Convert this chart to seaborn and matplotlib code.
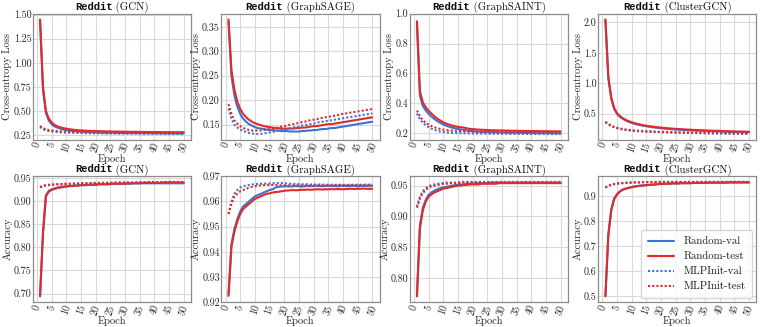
import numpy as np
import pandas as pd
import matplotlib
matplotlib.use("Agg")
import matplotlib.pyplot as plt
import seaborn as sns
from matplotlib.offsetbox import TextArea, HPacker, AnchoredOffsetbox

epochs = list(range(1, 51))
models = ["GCN", "GraphSAGE", "GraphSAINT", "ClusterGCN"]
series_names = ["Random-val", "Random-test", "MLPInit-val", "MLPInit-test"]

# ---------------- Loss ----------------
gcn_loss_rv = [1.44, 0.72, 0.48, 0.40, 0.36, 0.340, 0.326, 0.316, 0.308, 0.302, 0.297, 0.293, 0.290, 0.287, 0.285, 0.283, 0.281, 0.280, 0.279, 0.278, 0.277, 0.276, 0.275, 0.275, 0.274, 0.274, 0.273, 0.273, 0.272, 0.272, 0.272, 0.271, 0.271, 0.271, 0.270, 0.270, 0.270, 0.270, 0.269, 0.269, 0.269, 0.269, 0.268, 0.268, 0.268, 0.268, 0.268, 0.267, 0.267, 0.267]
gcn_loss_rt = [1.45, 0.75, 0.50, 0.42, 0.38, 0.355, 0.340, 0.330, 0.322, 0.316, 0.311, 0.307, 0.304, 0.301, 0.299, 0.297, 0.295, 0.294, 0.293, 0.292, 0.291, 0.290, 0.289, 0.288, 0.288, 0.287, 0.287, 0.286, 0.286, 0.285, 0.285, 0.284, 0.284, 0.284, 0.283, 0.283, 0.283, 0.282, 0.282, 0.282, 0.282, 0.281, 0.281, 0.281, 0.281, 0.280, 0.280, 0.280, 0.280, 0.280]
gcn_loss_mv = [0.335, 0.310, 0.300, 0.293, 0.288, 0.284, 0.281, 0.279, 0.277, 0.276, 0.275, 0.274, 0.273, 0.272, 0.271, 0.271, 0.270, 0.270, 0.269, 0.269, 0.268, 0.268, 0.268, 0.267, 0.267, 0.267, 0.266, 0.266, 0.266, 0.266, 0.265, 0.265, 0.265, 0.265, 0.265, 0.264, 0.264, 0.264, 0.264, 0.264, 0.263, 0.263, 0.263, 0.263, 0.263, 0.263, 0.262, 0.262, 0.262, 0.262]
gcn_loss_mt = [0.345, 0.322, 0.310, 0.303, 0.298, 0.294, 0.291, 0.289, 0.287, 0.286, 0.285, 0.284, 0.283, 0.282, 0.281, 0.281, 0.280, 0.280, 0.279, 0.279, 0.278, 0.278, 0.278, 0.277, 0.277, 0.277, 0.276, 0.276, 0.276, 0.276, 0.275, 0.275, 0.275, 0.275, 0.275, 0.274, 0.274, 0.274, 0.274, 0.274, 0.273, 0.273, 0.273, 0.273, 0.273, 0.273, 0.272, 0.272, 0.272, 0.272]

sage_loss_rv = [0.360, 0.250, 0.210, 0.187, 0.172, 0.162, 0.156, 0.151, 0.148, 0.145, 0.143, 0.142, 0.141, 0.140, 0.139, 0.139, 0.138, 0.138, 0.137, 0.137, 0.137, 0.136, 0.136, 0.136, 0.136, 0.137, 0.137, 0.138, 0.138, 0.139, 0.139, 0.140, 0.141, 0.141, 0.142, 0.143, 0.143, 0.144, 0.145, 0.146, 0.147, 0.148, 0.149, 0.150, 0.151, 0.152, 0.153, 0.154, 0.155, 0.156]
sage_loss_rt = [0.365, 0.262, 0.222, 0.197, 0.182, 0.172, 0.165, 0.160, 0.156, 0.153, 0.151, 0.149, 0.147, 0.146, 0.145, 0.144, 0.143, 0.143, 0.142, 0.142, 0.142, 0.142, 0.142, 0.143, 0.143, 0.144, 0.144, 0.145, 0.146, 0.147, 0.147, 0.148, 0.149, 0.150, 0.151, 0.151, 0.152, 0.153, 0.154, 0.155, 0.156, 0.157, 0.158, 0.159, 0.160, 0.161, 0.162, 0.163, 0.164, 0.165]
sage_loss_mv = [0.183, 0.162, 0.150, 0.144, 0.140, 0.137, 0.135, 0.133, 0.132, 0.131, 0.131, 0.131, 0.132, 0.133, 0.134, 0.135, 0.136, 0.138, 0.139, 0.140, 0.141, 0.143, 0.144, 0.145, 0.146, 0.148, 0.149, 0.150, 0.151, 0.152, 0.154, 0.155, 0.156, 0.157, 0.158, 0.159, 0.160, 0.161, 0.162, 0.163, 0.164, 0.165, 0.166, 0.167, 0.168, 0.169, 0.170, 0.171, 0.172, 0.173]
sage_loss_mt = [0.192, 0.172, 0.159, 0.152, 0.147, 0.143, 0.141, 0.139, 0.138, 0.138, 0.138, 0.138, 0.139, 0.140, 0.141, 0.142, 0.143, 0.144, 0.146, 0.147, 0.148, 0.150, 0.151, 0.152, 0.154, 0.155, 0.156, 0.158, 0.159, 0.160, 0.161, 0.163, 0.164, 0.165, 0.166, 0.167, 0.168, 0.169, 0.171, 0.172, 0.173, 0.174, 0.175, 0.176, 0.177, 0.178, 0.179, 0.180, 0.181, 0.182]

saint_loss_rv = [0.930, 0.450, 0.380, 0.350, 0.327, 0.308, 0.292, 0.278, 0.266, 0.256, 0.248, 0.241, 0.235, 0.230, 0.226, 0.223, 0.221, 0.216, 0.213, 0.211, 0.209, 0.208, 0.207, 0.206, 0.205, 0.204, 0.204, 0.203, 0.203, 0.202, 0.202, 0.201, 0.201, 0.201, 0.200, 0.200, 0.200, 0.199, 0.199, 0.199, 0.199, 0.198, 0.198, 0.198, 0.198, 0.198, 0.197, 0.197, 0.197, 0.197]
saint_loss_rt = [0.950, 0.480, 0.405, 0.372, 0.348, 0.328, 0.310, 0.295, 0.282, 0.271, 0.262, 0.255, 0.249, 0.244, 0.240, 0.238, 0.236, 0.230, 0.227, 0.225, 0.223, 0.222, 0.221, 0.220, 0.219, 0.218, 0.217, 0.217, 0.216, 0.216, 0.215, 0.215, 0.214, 0.214, 0.214, 0.213, 0.213, 0.213, 0.212, 0.212, 0.212, 0.212, 0.211, 0.211, 0.211, 0.211, 0.210, 0.210, 0.210, 0.210]
saint_loss_mv = [0.330, 0.292, 0.267, 0.251, 0.238, 0.228, 0.220, 0.214, 0.209, 0.206, 0.204, 0.202, 0.200, 0.199, 0.198, 0.198, 0.197, 0.197, 0.196, 0.196, 0.196, 0.195, 0.195, 0.195, 0.195, 0.194, 0.194, 0.194, 0.194, 0.194, 0.194, 0.193, 0.193, 0.193, 0.193, 0.193, 0.193, 0.193, 0.193, 0.192, 0.192, 0.192, 0.192, 0.192, 0.192, 0.192, 0.192, 0.192, 0.192, 0.192]
saint_loss_mt = [0.350, 0.312, 0.285, 0.268, 0.255, 0.245, 0.237, 0.231, 0.226, 0.222, 0.219, 0.217, 0.215, 0.214, 0.213, 0.212, 0.211, 0.210, 0.210, 0.209, 0.209, 0.208, 0.208, 0.208, 0.207, 0.207, 0.207, 0.206, 0.206, 0.206, 0.206, 0.205, 0.205, 0.205, 0.205, 0.205, 0.204, 0.204, 0.204, 0.204, 0.204, 0.204, 0.203, 0.203, 0.203, 0.203, 0.203, 0.203, 0.203, 0.203]

cgcn_loss_rv = [2.04, 1.08, 0.74, 0.575, 0.49, 0.445, 0.410, 0.383, 0.362, 0.345, 0.330, 0.318, 0.307, 0.297, 0.289, 0.281, 0.274, 0.268, 0.262, 0.257, 0.252, 0.248, 0.244, 0.240, 0.237, 0.234, 0.231, 0.228, 0.225, 0.223, 0.220, 0.218, 0.216, 0.214, 0.212, 0.210, 0.208, 0.206, 0.205, 0.203, 0.201, 0.200, 0.198, 0.197, 0.196, 0.194, 0.193, 0.192, 0.191, 0.190]
cgcn_loss_rt = [2.05, 1.10, 0.76, 0.59, 0.50, 0.455, 0.420, 0.393, 0.372, 0.355, 0.340, 0.328, 0.317, 0.307, 0.298, 0.291, 0.284, 0.278, 0.272, 0.267, 0.262, 0.258, 0.254, 0.250, 0.247, 0.244, 0.241, 0.238, 0.235, 0.233, 0.230, 0.228, 0.226, 0.224, 0.222, 0.220, 0.218, 0.216, 0.215, 0.213, 0.211, 0.210, 0.208, 0.207, 0.206, 0.204, 0.203, 0.202, 0.201, 0.200]
cgcn_loss_mv = [0.355, 0.321, 0.292, 0.272, 0.257, 0.245, 0.236, 0.228, 0.222, 0.217, 0.213, 0.209, 0.206, 0.203, 0.200, 0.198, 0.196, 0.194, 0.192, 0.190, 0.189, 0.187, 0.186, 0.185, 0.183, 0.182, 0.181, 0.180, 0.179, 0.178, 0.177, 0.176, 0.175, 0.174, 0.173, 0.172, 0.172, 0.171, 0.170, 0.169, 0.169, 0.168, 0.167, 0.167, 0.166, 0.165, 0.165, 0.164, 0.164, 0.163]
cgcn_loss_mt = [0.365, 0.330, 0.300, 0.280, 0.265, 0.253, 0.244, 0.236, 0.230, 0.225, 0.221, 0.217, 0.214, 0.211, 0.208, 0.206, 0.204, 0.202, 0.200, 0.198, 0.197, 0.195, 0.194, 0.193, 0.191, 0.190, 0.189, 0.188, 0.187, 0.186, 0.185, 0.184, 0.183, 0.182, 0.181, 0.180, 0.180, 0.179, 0.178, 0.177, 0.177, 0.176, 0.175, 0.175, 0.174, 0.173, 0.173, 0.172, 0.172, 0.171]

# ---------------- Accuracy ----------------
gcn_acc_rv = [0.694, 0.832, 0.912, 0.922, 0.925, 0.927, 0.929, 0.930, 0.931, 0.932, 0.932, 0.933, 0.933, 0.934, 0.934, 0.934, 0.935, 0.935, 0.935, 0.935, 0.936, 0.936, 0.936, 0.936, 0.936, 0.937, 0.937, 0.937, 0.937, 0.937, 0.937, 0.937, 0.938, 0.938, 0.938, 0.938, 0.938, 0.938, 0.938, 0.938, 0.938, 0.938, 0.938, 0.938, 0.938, 0.938, 0.938, 0.938, 0.938, 0.938]
gcn_acc_rt = [0.695, 0.830, 0.910, 0.920, 0.924, 0.926, 0.928, 0.929, 0.930, 0.931, 0.932, 0.932, 0.933, 0.933, 0.934, 0.934, 0.934, 0.935, 0.935, 0.935, 0.936, 0.936, 0.936, 0.936, 0.937, 0.937, 0.937, 0.937, 0.937, 0.938, 0.938, 0.938, 0.938, 0.938, 0.938, 0.939, 0.939, 0.939, 0.939, 0.939, 0.939, 0.939, 0.940, 0.940, 0.940, 0.940, 0.940, 0.940, 0.940, 0.940]
gcn_acc_mv = [0.929, 0.932, 0.933, 0.934, 0.935, 0.935, 0.936, 0.936, 0.936, 0.937, 0.937, 0.937, 0.937, 0.937, 0.938, 0.938, 0.938, 0.938, 0.938, 0.938, 0.938, 0.939, 0.939, 0.939, 0.939, 0.939, 0.939, 0.939, 0.939, 0.939, 0.939, 0.939, 0.939, 0.940, 0.940, 0.940, 0.940, 0.940, 0.940, 0.940, 0.940, 0.940, 0.940, 0.940, 0.940, 0.940, 0.940, 0.940, 0.940, 0.940]
gcn_acc_mt = [0.930, 0.933, 0.934, 0.935, 0.935, 0.936, 0.936, 0.936, 0.937, 0.937, 0.937, 0.937, 0.938, 0.938, 0.938, 0.938, 0.938, 0.938, 0.939, 0.939, 0.939, 0.939, 0.939, 0.939, 0.939, 0.939, 0.940, 0.940, 0.940, 0.940, 0.940, 0.940, 0.940, 0.940, 0.940, 0.940, 0.940, 0.941, 0.941, 0.941, 0.941, 0.941, 0.941, 0.941, 0.941, 0.941, 0.941, 0.941, 0.941, 0.941]

sage_acc_rv = [0.9230, 0.9430, 0.9490, 0.9530, 0.9560, 0.9580, 0.9590, 0.9600, 0.9610, 0.9620, 0.9625, 0.9630, 0.9635, 0.9640, 0.9645, 0.9648, 0.9655, 0.9658, 0.9659, 0.9660, 0.9660, 0.9659, 0.9660, 0.9661, 0.9660, 0.9659, 0.9660, 0.9661, 0.9660, 0.9661, 0.9662, 0.9661, 0.9660, 0.9661, 0.9662, 0.9661, 0.9661, 0.9660, 0.9661, 0.9662, 0.9661, 0.9661, 0.9662, 0.9661, 0.9660, 0.9661, 0.9662, 0.9661, 0.9662, 0.9662]
sage_acc_rt = [0.9225, 0.9420, 0.9480, 0.9520, 0.9550, 0.9570, 0.9580, 0.9590, 0.9600, 0.9610, 0.9615, 0.9620, 0.9625, 0.9630, 0.9632, 0.9635, 0.9637, 0.9638, 0.9640, 0.9642, 0.9643, 0.9644, 0.9645, 0.9644, 0.9645, 0.9646, 0.9646, 0.9647, 0.9646, 0.9647, 0.9648, 0.9648, 0.9647, 0.9648, 0.9648, 0.9649, 0.9648, 0.9649, 0.9649, 0.9648, 0.9649, 0.9650, 0.9650, 0.9649, 0.9650, 0.9650, 0.9651, 0.9650, 0.9650, 0.9650]
sage_acc_mv = [0.9550, 0.9600, 0.9630, 0.9645, 0.9655, 0.9660, 0.9663, 0.9665, 0.9667, 0.9668, 0.9669, 0.9670, 0.9670, 0.9671, 0.9671, 0.9672, 0.9672, 0.9673, 0.9673, 0.9672, 0.9671, 0.9670, 0.9670, 0.9669, 0.9669, 0.9668, 0.9668, 0.9668, 0.9667, 0.9667, 0.9667, 0.9667, 0.9667, 0.9666, 0.9666, 0.9666, 0.9666, 0.9666, 0.9666, 0.9666, 0.9666, 0.9666, 0.9666, 0.9666, 0.9666, 0.9666, 0.9667, 0.9667, 0.9667, 0.9667]
sage_acc_mt = [0.9550, 0.9590, 0.9620, 0.9630, 0.9640, 0.9645, 0.9650, 0.9655, 0.9658, 0.9660, 0.9662, 0.9663, 0.9664, 0.9664, 0.9665, 0.9665, 0.9665, 0.9665, 0.9664, 0.9664, 0.9663, 0.9663, 0.9663, 0.9663, 0.9663, 0.9663, 0.9663, 0.9663, 0.9663, 0.9663, 0.9663, 0.9663, 0.9663, 0.9663, 0.9663, 0.9663, 0.9664, 0.9664, 0.9664, 0.9664, 0.9664, 0.9664, 0.9664, 0.9664, 0.9664, 0.9664, 0.9664, 0.9664, 0.9664, 0.9664]

saint_acc_rv = [0.772, 0.885, 0.914, 0.927, 0.935, 0.939, 0.942, 0.944, 0.946, 0.947, 0.948, 0.949, 0.950, 0.951, 0.951, 0.952, 0.952, 0.953, 0.953, 0.953, 0.954, 0.954, 0.954, 0.954, 0.954, 0.955, 0.955, 0.955, 0.955, 0.955, 0.955, 0.955, 0.955, 0.955, 0.955, 0.955, 0.955, 0.955, 0.955, 0.955, 0.955, 0.955, 0.955, 0.955, 0.955, 0.955, 0.955, 0.955, 0.955, 0.955]
saint_acc_rt = [0.770, 0.880, 0.910, 0.924, 0.932, 0.936, 0.939, 0.941, 0.943, 0.945, 0.946, 0.947, 0.948, 0.949, 0.950, 0.950, 0.951, 0.951, 0.952, 0.952, 0.952, 0.952, 0.953, 0.953, 0.953, 0.953, 0.953, 0.953, 0.954, 0.954, 0.954, 0.954, 0.954, 0.954, 0.954, 0.954, 0.954, 0.954, 0.954, 0.954, 0.954, 0.954, 0.954, 0.954, 0.954, 0.954, 0.954, 0.954, 0.954, 0.954]
saint_acc_mv = [0.916, 0.932, 0.941, 0.946, 0.949, 0.951, 0.952, 0.953, 0.954, 0.954, 0.955, 0.955, 0.955, 0.955, 0.955, 0.956, 0.956, 0.956, 0.956, 0.956, 0.956, 0.956, 0.956, 0.956, 0.956, 0.956, 0.956, 0.956, 0.956, 0.956, 0.956, 0.956, 0.956, 0.956, 0.956, 0.956, 0.956, 0.956, 0.956, 0.956, 0.956, 0.956, 0.956, 0.956, 0.956, 0.956, 0.956, 0.956, 0.956, 0.956]
saint_acc_mt = [0.914, 0.929, 0.938, 0.943, 0.947, 0.949, 0.950, 0.951, 0.952, 0.953, 0.953, 0.954, 0.954, 0.954, 0.954, 0.955, 0.955, 0.955, 0.955, 0.955, 0.955, 0.955, 0.955, 0.955, 0.955, 0.955, 0.955, 0.955, 0.955, 0.955, 0.955, 0.955, 0.955, 0.955, 0.955, 0.955, 0.955, 0.955, 0.955, 0.955, 0.955, 0.955, 0.955, 0.955, 0.955, 0.955, 0.955, 0.955, 0.955, 0.955]

cgcn_acc_rv = [0.502, 0.748, 0.848, 0.892, 0.910, 0.921, 0.928, 0.932, 0.935, 0.938, 0.940, 0.942, 0.943, 0.944, 0.945, 0.946, 0.947, 0.948, 0.949, 0.950, 0.950, 0.951, 0.951, 0.952, 0.952, 0.952, 0.953, 0.953, 0.953, 0.953, 0.954, 0.954, 0.954, 0.954, 0.954, 0.955, 0.955, 0.955, 0.955, 0.955, 0.955, 0.955, 0.956, 0.956, 0.956, 0.956, 0.956, 0.956, 0.956, 0.956]
cgcn_acc_rt = [0.500, 0.745, 0.845, 0.890, 0.908, 0.920, 0.927, 0.931, 0.934, 0.937, 0.939, 0.941, 0.943, 0.944, 0.945, 0.946, 0.947, 0.948, 0.949, 0.950, 0.950, 0.951, 0.951, 0.952, 0.952, 0.952, 0.953, 0.953, 0.953, 0.953, 0.954, 0.954, 0.954, 0.954, 0.954, 0.955, 0.955, 0.955, 0.955, 0.955, 0.955, 0.955, 0.956, 0.956, 0.956, 0.956, 0.956, 0.956, 0.956, 0.956]
cgcn_acc_mv = [0.936, 0.943, 0.947, 0.950, 0.952, 0.953, 0.954, 0.955, 0.955, 0.956, 0.956, 0.956, 0.957, 0.957, 0.957, 0.957, 0.957, 0.958, 0.958, 0.958, 0.958, 0.958, 0.958, 0.958, 0.958, 0.958, 0.958, 0.958, 0.958, 0.958, 0.958, 0.958, 0.958, 0.958, 0.958, 0.958, 0.958, 0.958, 0.958, 0.958, 0.958, 0.958, 0.958, 0.958, 0.958, 0.958, 0.958, 0.958, 0.958, 0.958]
cgcn_acc_mt = [0.935, 0.942, 0.946, 0.949, 0.951, 0.952, 0.953, 0.954, 0.955, 0.955, 0.956, 0.956, 0.956, 0.957, 0.957, 0.957, 0.957, 0.957, 0.957, 0.958, 0.958, 0.958, 0.958, 0.958, 0.958, 0.958, 0.958, 0.958, 0.958, 0.958, 0.958, 0.958, 0.958, 0.958, 0.958, 0.958, 0.958, 0.958, 0.958, 0.958, 0.958, 0.958, 0.958, 0.958, 0.958, 0.958, 0.958, 0.958, 0.958, 0.958]

loss_data = [
    [gcn_loss_rv, gcn_loss_rt, gcn_loss_mv, gcn_loss_mt],
    [sage_loss_rv, sage_loss_rt, sage_loss_mv, sage_loss_mt],
    [saint_loss_rv, saint_loss_rt, saint_loss_mv, saint_loss_mt],
    [cgcn_loss_rv, cgcn_loss_rt, cgcn_loss_mv, cgcn_loss_mt],
]
acc_data = [
    [gcn_acc_rv, gcn_acc_rt, gcn_acc_mv, gcn_acc_mt],
    [sage_acc_rv, sage_acc_rt, sage_acc_mv, sage_acc_mt],
    [saint_acc_rv, saint_acc_rt, saint_acc_mv, saint_acc_mt],
    [cgcn_acc_rv, cgcn_acc_rt, cgcn_acc_mv, cgcn_acc_mt],
]
loss_ticks = [[0.25, 0.50, 0.75, 1.00, 1.25, 1.50],
              [0.15, 0.20, 0.25, 0.30, 0.35],
              [0.2, 0.4, 0.6, 0.8, 1.0],
              [0.5, 1.0, 1.5, 2.0]]
acc_ticks = [[0.70, 0.75, 0.80, 0.85, 0.90, 0.95],
             [0.92, 0.93, 0.94, 0.95, 0.96, 0.97],
             [0.80, 0.85, 0.90, 0.95],
             [0.5, 0.6, 0.7, 0.8, 0.9]]
loss_fmt = ["%.2f", "%.2f", "%.1f", "%.1f"]
acc_fmt = ["%.2f", "%.2f", "%.2f", "%.1f"]
x_ticks = [0, 5, 10, 15, 20, 25, 30, 35, 40, 45, 50]

BLUE = "#3a73d6"
RED = "#e22a26"
colors = [BLUE, RED, BLUE, RED]
styles = ["-", "-", (0, (1, 1)), (0, (1, 1))]

sns.set_theme(style="whitegrid")
plt.rcParams.update({
    "font.family": ["cmr10", "DejaVu Serif"],
    "mathtext.fontset": "cm",
    "axes.formatter.use_mathtext": True,
    "axes.edgecolor": "0.55",
    "axes.linewidth": 0.9,
    "grid.color": "0.85",
    "grid.linewidth": 0.8,
    "xtick.labelsize": 7.2,
    "ytick.labelsize": 7.2,
    "axes.labelsize": 7.5,
    "text.color": "0.1",
    "axes.labelcolor": "0.15",
    "xtick.color": "0.15",
    "ytick.color": "0.15",
})

fig, axes = plt.subplots(2, 4, figsize=(7.61, 3.27), dpi=100)
fig.subplots_adjust(left=0.043, right=0.994, top=0.958, bottom=0.076, wspace=0.19, hspace=0.29)

def draw_title(ax, model):
    t1 = TextArea("Reddit", textprops=dict(family="Liberation Mono", weight="bold", size=7.6, color="0.05"))
    t2 = TextArea(" (" + model + ")", textprops=dict(family="cmr10", size=7.8, color="0.05"))
    box = HPacker(children=[t1, t2], align="baseline", pad=0, sep=0)
    anc = AnchoredOffsetbox(loc="lower center", child=box, pad=0.0, frameon=False,
                            bbox_to_anchor=(0.5, 1.005), bbox_transform=ax.transAxes, borderpad=0.0)
    ax.add_artist(anc)

for row, (data, ticks, fmts, ylabel) in enumerate([
        (loss_data, loss_ticks, loss_fmt, "Cross-entropy Loss"),
        (acc_data, acc_ticks, acc_fmt, "Accuracy")]):
    for col in range(4):
        ax = axes[row, col]
        for name, vals, c, ls in zip(series_names, data[col], colors, styles):
            sns.lineplot(x=epochs, y=vals, ax=ax, color=c, linestyle=ls, linewidth=1.5,
                         label=name, legend=False)
        ax.set_xticks(x_ticks)
        ax.set_xticklabels([str(t) for t in x_ticks], rotation=70)
        ax.set_yticks(ticks[col])
        ax.set_yticklabels([fmts[col] % t for t in ticks[col]])
        ax.set_xlim(-1.5, 52.5)
        ax.set_xlabel("Epoch", labelpad=0)
        ax.set_ylabel(ylabel, labelpad=1)
        ax.tick_params(axis="both", pad=1, length=0)
        draw_title(ax, models[col])

leg = axes[1, 3].legend(loc="lower right", fontsize=7.8, handlelength=2.4, frameon=True,
                        borderpad=0.6, labelspacing=0.5, handletextpad=0.9,
                        borderaxespad=0.4)
leg.get_frame().set_edgecolor("0.8")

fig.savefig("out.png", dpi=100)
